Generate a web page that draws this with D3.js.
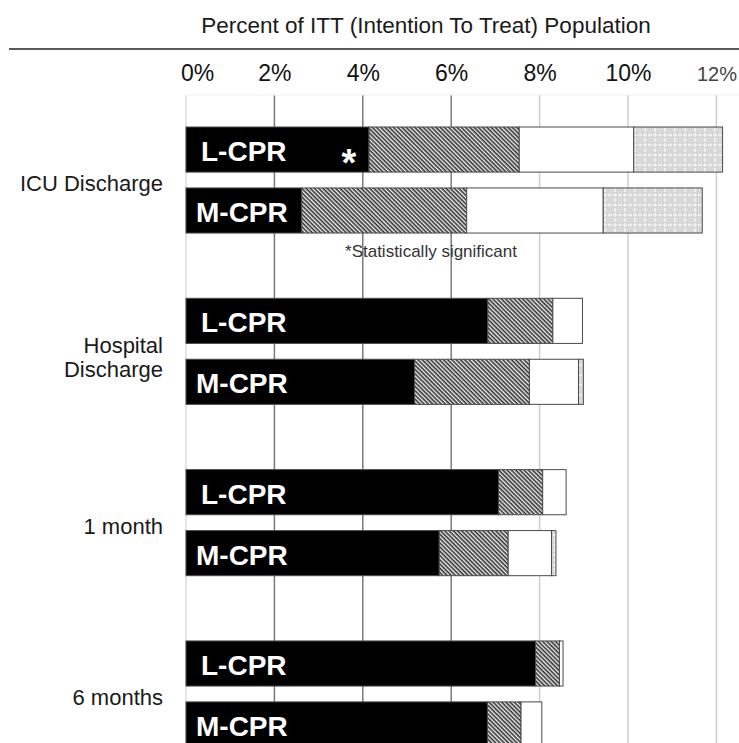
<!DOCTYPE html>
<html>
<head>
<meta charset="utf-8">
<title>Percent of ITT Population</title>
<script src="https://d3js.org/d3.v7.min.js"></script>
<style>
    body {
        margin: 0;
        background: #fff;
        font-family: 'Liberation Sans', Arial, Helvetica, sans-serif;
    }
    .title { font-size: 22.5px; fill: #1a1a1a; }
    .axis text { font-size: 23px; fill: #111; }
    .cat-label { font-size: 22px; fill: #1a1a1a; }
    .arm-label { font-size: 28px; font-weight: bold; fill: #fff; }
    .note { font-size: 17px; fill: #333; }
    .seg { stroke: #4a4a4a; stroke-width: 1; }
</style>
</head>
<body>
<script>
    // categories
    const groups = ["ICU Discharge", "Hospital Discharge", "1 month", "6 months"];
    const groupLines = [["ICU Discharge"], ["Hospital", "Discharge"], ["1 month"], ["6 months"]];
    const arms = ["L-CPR", "M-CPR"];

    // segment widths in % of ITT, bar order: ICU L, ICU M, Hosp L, Hosp M, 1m L, 1m M, 6m L, 6m M
    const solid   = [4.14, 2.62, 6.83, 5.17, 7.07, 5.73, 7.91, 6.82];
    const hatched = [3.40, 3.73, 1.47, 2.60, 1.00, 1.56, 0.54, 0.76];
    const open    = [2.59, 3.09, 0.67, 1.11, 0.53, 0.98, 0.08, 0.47];
    const dotted  = [2.01, 2.24, 0.00, 0.11, 0.00, 0.10, 0.00, 0.00];

    const tickValues = [0, 2, 4, 6, 8, 10, 12];
    const title = "Percent of ITT (Intention To Treat) Population";
    const footnote = "*Statistically significant";

    const W = 739, H = 743;
    const keys = ["solid", "hatched", "open", "dotted"];

    // one row per bar
    const rows = [];
    groups.forEach((g, i) => {
        arms.forEach((a, j) => {
            const k = i * arms.length + j;
            rows.push({ group: g, arm: a, solid: solid[k], hatched: hatched[k], open: open[k], dotted: dotted[k] });
        });
    });

    const svg = d3.select("body").append("svg")
        .attr("width", W)
        .attr("height", H);

    // patterns
    const defs = svg.append("defs");
    const hatch = defs.append("pattern")
        .attr("id", "hatch")
        .attr("patternUnits", "userSpaceOnUse")
        .attr("width", 3).attr("height", 3)
        .attr("patternTransform", "rotate(45)");
    hatch.append("rect").attr("width", 3).attr("height", 3).attr("fill", "#f0f0f0");
    hatch.append("rect").attr("width", 3).attr("height", 1.6).attr("fill", "#333");

    const dots = defs.append("pattern")
        .attr("id", "dots")
        .attr("patternUnits", "userSpaceOnUse")
        .attr("width", 10).attr("height", 10);
    dots.append("rect").attr("width", 10).attr("height", 10).attr("fill", "#d9d9d9");
    dots.append("rect").attr("x", 4).attr("width", 2).attr("height", 10).attr("fill", "#eeeeee");
    dots.append("rect").attr("y", 4).attr("width", 10).attr("height", 2).attr("fill", "#eeeeee");
    dots.append("circle").attr("cx", 5).attr("cy", 5).attr("r", 2.6)
        .attr("fill", "none").attr("stroke", "#cacaca").attr("stroke-width", 0.8);

    const fills = { solid: "#000", hatched: "url(#hatch)", open: "#fff", dotted: "url(#dots)" };

    // scales
    const x = d3.scaleLinear().domain([0, 12]).range([186, 716.4]);
    const yGroup = d3.scaleBand().domain(groups).range([127, 747]).paddingInner(0.381).paddingOuter(0);
    const yArm = d3.scaleBand().domain(arms).range([0, yGroup.bandwidth()]).paddingInner(0.26).paddingOuter(0);
    const yTop = d => yGroup(d.group) + yArm(d.arm);

    // title + rule
    svg.append("text")
        .attr("class", "title")
        .attr("x", 426).attr("y", 33)
        .attr("text-anchor", "middle")
        .text(title);
    svg.append("line")
        .attr("x1", 9).attr("x2", W)
        .attr("y1", 49).attr("y2", 49)
        .attr("stroke", "#222").attr("stroke-width", 1.5);

    // gridlines
    const gridColor = d => d === 0 ? "#dcdcdc" : d <= 6 ? "#7a7a7a" : "#cfcfcf";
    svg.append("g").attr("class", "grid")
        .selectAll("line")
        .data(tickValues)
        .join("line")
        .attr("x1", d => x(d)).attr("x2", d => x(d))
        .attr("y1", 95).attr("y2", H)
        .attr("stroke", gridColor)
        .attr("stroke-width", 1.5);
    svg.append("line")
        .attr("x1", x(0)).attr("x2", W)
        .attr("y1", 95).attr("y2", 95)
        .attr("stroke", "#f1f1f1");

    // top axis labels
    const xAxis = d3.axisTop(x)
        .tickValues(tickValues)
        .tickFormat(d => d + "%")
        .tickSize(0);
    const axisG = svg.append("g")
        .attr("class", "axis")
        .attr("transform", "translate(0,81)")
        .call(xAxis);
    axisG.select(".domain").remove();
    axisG.selectAll("text")
        .attr("y", 0).attr("dy", 0)
        .attr("dx", d => d === 0 ? 11 : 0)
        .style("font-size", d => d === 12 ? "20px" : null)
        .style("fill", d => d === 12 ? "#444" : null);

    // stacked bars
    const stacked = d3.stack().keys(keys)(rows);
    svg.append("g")
        .selectAll("g")
        .data(stacked)
        .join("g")
        .attr("fill", s => fills[s.key])
        .selectAll("rect")
        .data(s => s.filter(p => p[1] - p[0] > 0))
        .join("rect")
        .attr("class", "seg")
        .attr("x", p => x(p[0]))
        .attr("width", p => x(p[1]) - x(p[0]))
        .attr("y", p => yTop(p.data))
        .attr("height", yArm.bandwidth());

    // arm labels inside bars
    svg.append("g")
        .selectAll("text")
        .data(rows)
        .join("text")
        .attr("class", "arm-label")
        .attr("x", d => x(0) + (d.arm === "L-CPR" ? 15 : 10))
        .attr("y", d => yTop(d) + 34)
        .text(d => d.arm);

    // significance marker
    const first = rows[0];
    svg.append("text")
        .attr("class", "arm-label")
        .attr("x", 349)
        .attr("y", yTop(first) + 49)
        .attr("text-anchor", "middle")
        .style("font-size", "38px")
        .text("*");

    svg.append("text")
        .attr("class", "note")
        .attr("x", 431)
        .attr("y", yGroup(groups[0]) + yGroup.bandwidth() + 24)
        .attr("text-anchor", "middle")
        .text(footnote);

    // category labels
    svg.append("g")
        .selectAll("text")
        .data(groups)
        .join("text")
        .attr("class", "cat-label")
        .attr("text-anchor", "end")
        .attr("x", 163)
        .each(function (g, i) {
            const lines = groupLines[i];
            const c = yGroup(g) + yGroup.bandwidth() / 2;
            d3.select(this).selectAll("tspan")
                .data(lines)
                .join("tspan")
                .attr("x", 163)
                .attr("y", (t, j) => c + 11 + (j - (lines.length - 1) / 2) * 24 + (lines.length - 1) * 3)
                .text(t => t);
        });
</script>
</body>
</html>
